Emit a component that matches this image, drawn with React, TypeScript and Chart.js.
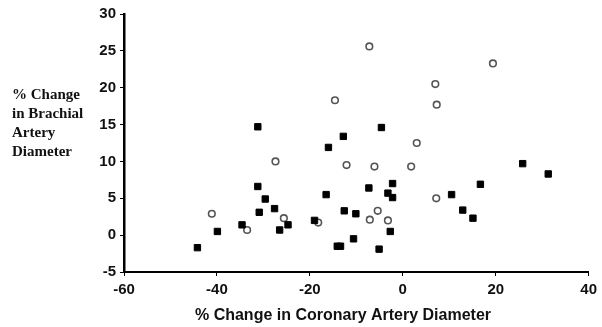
import React, { useEffect, useRef } from "react";
import { Chart, registerables } from "chart.js";

Chart.register(...registerables);

const squaresX = [-44.2, -39.9, -34.6, -31.2, -31.2, -30.9, -29.6, -27.6, -26.5, -24.7, -19.0, -16.0, -16.5, -14.1, -13.4, -12.8, -12.6, -10.6, -10.1, -7.3, -5.1, -4.6, -3.2, -2.7, -2.2, -2.2, 10.5, 12.9, 15.1, 16.7, 25.8, 31.3];
const squaresY = [-1.7, 0.5, 1.4, 14.7, 6.6, 3.1, 4.9, 3.6, 0.7, 1.4, 2.0, 11.9, 5.5, -1.5, -1.5, 13.4, 3.3, -0.5, 2.9, 6.4, -1.9, 14.6, 5.7, 0.5, 7.0, 5.1, 5.5, 3.4, 2.3, 6.9, 9.7, 8.3];

const circlesX = [-41.1, -33.5, -27.4, -25.6, -18.2, -14.6, -12.1, -7.2, -7.1, -6.1, -5.4, -3.2, 1.8, 3.0, 7.2, 7.0, 7.3, 19.4];
const circlesY = [2.9, 0.7, 10.0, 2.3, 1.7, 18.3, 9.5, 25.6, 2.1, 9.3, 3.3, 2.0, 9.3, 12.5, 5.0, 20.5, 17.7, 23.3];

const xTitle = "% Change in Coronary Artery Diameter";
const yTitleLines = ["% Change", "in Brachial", "Artery", "Diameter"];

export default function App() {
  const ref = useRef<HTMLCanvasElement | null>(null);

  useEffect(() => {
    if (!ref.current) return;
    const titlesPlugin = {
      id: "titles",
      afterDraw(chart: any) {
        const ctx = chart.ctx;
        ctx.save();
        ctx.font = 'bold 15px "Liberation Serif"';
        ctx.fillStyle = "#111";
        ctx.textAlign = "left";
        ctx.textBaseline = "middle";
        yTitleLines.forEach((t, i) => ctx.fillText(t, 12, 95 + i * 19));
        ctx.font = 'bold 16px "Liberation Sans", Arial';
        ctx.textAlign = "center";
        ctx.fillText(xTitle, 343, 316);
        ctx.restore();
      },
    };
    const tickFont = { family: '"Liberation Sans", Arial', size: 15, weight: "bold" as const };
    const chart = new Chart(ref.current, {
      type: "scatter",
      data: {
        datasets: [
          {
            label: "squares",
            data: squaresX.map((x, i) => ({ x, y: squaresY[i] })),
            pointStyle: "rect",
            pointRadius: 4.5,
            backgroundColor: "#000",
            borderColor: "#000",
            borderWidth: 1,
          },
          {
            label: "circles",
            data: circlesX.map((x, i) => ({ x, y: circlesY[i] })),
            pointStyle: "circle",
            pointRadius: 3.3,
            backgroundColor: "#fff",
            borderColor: "#555",
            borderWidth: 1.6,
          },
        ],
      },
      options: {
        responsive: false,
        animation: false,
        layout: { padding: { left: 0, top: 14, right: 9, bottom: 0 } },
        plugins: { legend: { display: false }, tooltip: { enabled: false } },
        scales: {
          x: {
            type: "linear",
            min: -60,
            max: 40,
            ticks: { stepSize: 20, color: "#111", font: tickFont, padding: 5 },
            grid: { drawOnChartArea: false, drawTicks: true, tickLength: 4, color: "#000", lineWidth: 1 },
            border: { display: true, color: "#000", width: 2 },
            afterFit: (s: any) => { s.height = 55; },
          },
          y: {
            type: "linear",
            min: -5,
            max: 30,
            ticks: { stepSize: 5, color: "#111", font: tickFont, padding: 4 },
            grid: { drawOnChartArea: false, drawTicks: true, tickLength: 4, color: "#000", lineWidth: 1 },
            border: { display: true, color: "#000", width: 2.5 },
            afterFit: (s: any) => { s.width = 124; },
          },
        },
      },
      plugins: [titlesPlugin],
    });
    return () => chart.destroy();
  }, []);

  return (
    <div style={{ position: "fixed", left: 0, top: 0, width: 602, height: 327, background: "#fff" }}>
      <canvas ref={ref} width={602} height={327} />
    </div>
  );
}
